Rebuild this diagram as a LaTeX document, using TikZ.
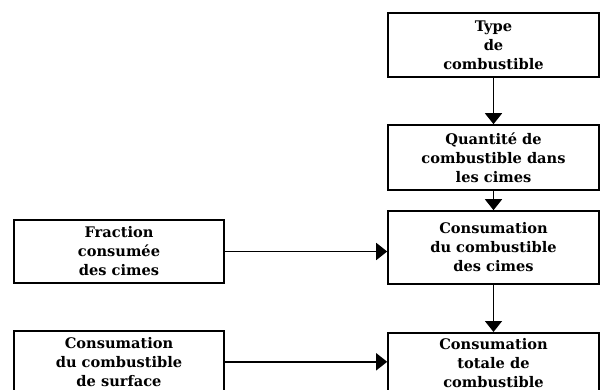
\documentclass[tikz,border=0pt]{standalone}
\usepackage{fontspec}
\setmainfont{DejaVu Serif}
\usetikzlibrary{arrows.meta}
\begin{document}
\begin{tikzpicture}[x=1pt,y=-1pt,
  box/.style={draw, line width=1.6pt, minimum width=211pt, inner sep=0pt,
    align=center, font=\fontsize{14.6}{19}\selectfont\bfseries},
  lbox/.style={box, minimum width=210pt},
  flow/.style={line width=1.6pt, -{Triangle[length=11pt,width=17pt]}}]
  \clip (0,0) rectangle (602,390);
  % right column
  \node[box, minimum height=64pt] (t1) at (493.5,45) {Type\\de\\combustible};
  \node[box, minimum height=65pt] (t2) at (493.5,157.5) {Quantité de\\combustible dans\\les cimes};
  \node[box, minimum height=73pt] (t3) at (493.5,247.5) {Consumation\\du combustible\\des cimes};
  \node[box, minimum height=60pt, anchor=north] (t4) at (493.5,332) {Consumation\\totale de\\combustible};
  % left column
  \node[lbox, minimum height=63pt] (fr) at (119,251.5) {Fraction\\consumée\\des cimes};
  \node[lbox, minimum height=62pt, anchor=north] (su) at (119,330) {Consumation\\du combustible\\de surface};
  % connectors
  \draw[flow] (t1) -- (t2);
  \draw[flow] (t2) -- (t3);
  \draw[flow] (t3) -- (t4);
  \draw[flow] (fr.east) -- (fr.east -| t3.west);
  \draw[flow] (su.east) -- (su.east -| t4.west);
\end{tikzpicture}
\end{document}
